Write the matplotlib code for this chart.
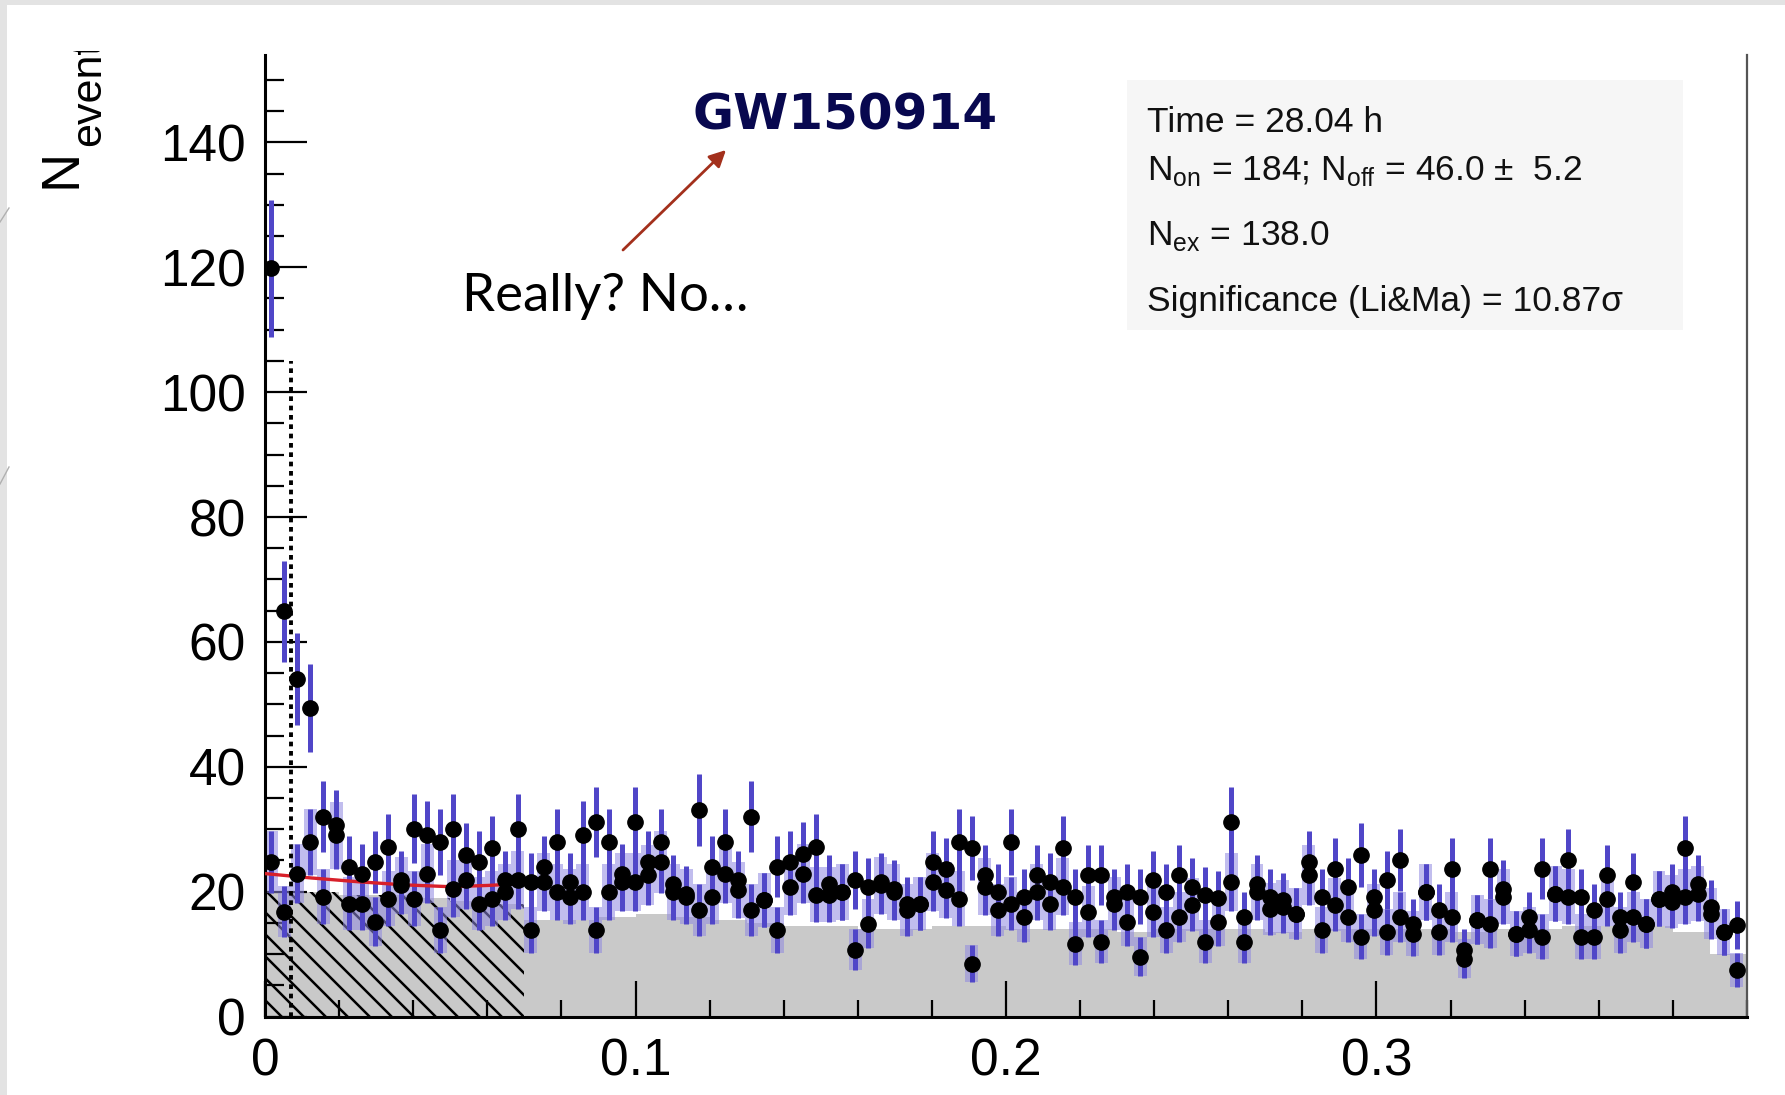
import numpy as np
import matplotlib
matplotlib.use("Agg")
import matplotlib.pyplot as plt
from matplotlib.ticker import MultipleLocator, FixedLocator, FixedFormatter
from matplotlib.transforms import Bbox, IdentityTransform
from matplotlib.lines import Line2D
from matplotlib.collections import LineCollection

# theta^2 bins: 114 bins of width 0.0035 between 0 and 0.4
bin_width = 0.0035
n_bins = 114

# upper / lower black points in each bin
on_counts = [119.8, 64.9, 54.0, 49.4, 32.0, 30.7, 24.0, 22.9, 24.8, 27.2,
             21.9, 30.1, 29.1, 28.0, 30.1, 25.9, 24.8, 27.0, 21.9, 30.1,
             21.6, 24.0, 28.0, 21.6, 29.1, 31.2, 28.0, 22.9, 31.2, 24.8,
             28.0, 21.3, 19.7, 33.1, 24.0, 28.0, 21.9, 32.0, 18.7, 24.0,
             24.8, 26.1, 27.2, 21.3, 20.0, 21.9, 20.8, 21.6, 20.5, 18.1,
             18.1, 24.8, 23.7, 28.0, 27.0, 22.7, 20.0, 28.0, 19.2, 22.7,
             21.6, 27.0, 19.2, 22.7, 22.7, 19.2, 20.0, 19.2, 21.9, 20.0,
             22.7, 20.8, 19.5, 19.0, 31.2, 16.0, 21.3, 19.2, 18.7, 16.5,
             24.8, 19.2, 23.7, 20.8, 25.9, 19.2, 21.9, 25.1, 14.9, 20.0,
             17.1, 23.7, 10.7, 15.5, 23.7, 20.5, 13.3, 16.0, 23.7, 19.7,
             25.1, 19.2, 17.1, 22.7, 16.0, 21.6, 14.9, 18.9, 20.0, 27.0,
             21.3, 17.6, 13.6, 14.7]
off_counts = [24.8, 16.8, 22.9, 28.0, 19.2, 29.0, 18.1, 18.1, 15.2, 18.9,
              21.0, 18.9, 22.9, 13.9, 20.5, 21.9, 18.1, 18.9, 20.0, 21.9,
              13.9, 21.6, 20.0, 19.2, 20.0, 13.9, 20.0, 21.6, 21.6, 22.7,
              24.8, 20.0, 19.2, 17.1, 19.2, 22.9, 20.3, 17.1, 18.7, 13.9,
              20.8, 22.9, 19.5, 19.5, 20.0, 10.7, 14.9, 21.0, 20.0, 17.1,
              18.1, 21.6, 20.3, 18.9, 8.5, 20.8, 17.1, 18.1, 16.0, 20.0,
              18.1, 20.8, 11.7, 16.8, 12.0, 18.1, 15.2, 9.6, 16.8, 13.9,
              16.0, 17.9, 12.0, 15.2, 21.6, 12.0, 20.0, 17.3, 17.6, 16.5,
              22.7, 13.9, 17.9, 16.0, 12.8, 17.1, 13.6, 16.0, 13.3, 20.0,
              13.6, 16.0, 9.3, 15.5, 14.9, 19.2, 13.3, 13.9, 12.8, 19.7,
              19.2, 12.8, 12.8, 18.9, 13.9, 16.0, 14.9, 18.9, 18.4, 19.2,
              19.7, 16.5, 13.6, 7.5]

# gray background histogram, 0.01 wide bins
bkg_edges = np.arange(0, 0.4001, 0.01)
bkg_level = [20.0, 20.0, 19.5, 19.5, 19.0, 18.5, 18.0, 15.5, 15.5, 16.0,
             16.5, 16.0, 15.5, 15.0, 14.5, 14.5, 14.0, 14.0, 14.5, 14.5,
             14.0, 14.0, 14.0, 13.5, 14.0, 14.0, 14.0, 13.5, 14.0, 14.0,
             14.0, 14.0, 13.5, 14.0, 14.0, 14.5, 14.5, 14.5, 13.5, 10.0]

# fit over the normalisation region
fit_x = [0.0, 0.0125, 0.025, 0.0375, 0.05, 0.06, 0.07]
fit_y = [22.9, 22.2, 21.6, 21.1, 20.8, 21.0, 21.3]

theta_cut = 0.007
norm_max = 0.07

x = (np.arange(n_bins) + 0.5) * bin_width
edges = np.arange(n_bins + 1) * bin_width
off_arr = np.array(off_counts)
off_err = np.sqrt(off_arr)

plt.rcParams['font.family'] = ['Liberation Sans', 'DejaVu Sans']
fig = plt.figure(figsize=(17.85, 10.95), dpi=100)
fig.patch.set_facecolor('white')

ax = fig.add_axes([0.14846, 0.0716, 0.83025, 0.87826])
ax.set_xlim(0, 0.4)
ax.set_ylim(0, 154)

# gray off histogram
ax.stairs(bkg_level, bkg_edges, fill=True, color='#c9c9c9', zorder=1)

# hatched normalisation region: "\" lines every ~22 px, clipped to the histogram
hatch_n = int(round(norm_max / 0.01))
hpatch = ax.stairs(bkg_level[:hatch_n], bkg_edges[:hatch_n + 1], fill=True,
                   facecolor='none', edgecolor='none', linewidth=0, zorder=1.5)
segs = []
for c in np.arange(250, 900, 22):
    segs.append([(c - 600, 600), (c, 0)])
hl = LineCollection(segs, colors='black', linewidths=1.8, transform=IdentityTransform(),
                    zorder=1.6)
ax.add_collection(hl, autolim=False)
hl.set_clip_path(hpatch)

# light error band of the off histogram
ax.stairs(off_arr + off_err, edges, baseline=off_arr - off_err, fill=True,
          color='#8f88e0', alpha=0.55, linewidth=0, zorder=1.8)

# dotted theta^2 cut
ax.plot([theta_cut, theta_cut], [0, 105], color='black', linestyle=(0, (1.2, 1.2)),
        linewidth=2.8, zorder=2)

blue = '#5046c8'
ax.errorbar(x, off_counts, yerr=off_err, fmt='none', ecolor=blue,
            elinewidth=3.6, capsize=0, zorder=3)
ax.errorbar(x, on_counts, yerr=np.sqrt(on_counts), fmt='none', ecolor=blue,
            elinewidth=3.6, capsize=0, zorder=3)

ax.plot(fit_x, fit_y, color='#d8202a', linewidth=2.4, zorder=4)

ax.plot(x, off_counts, 'o', color='black', markersize=11, zorder=5)
ax.plot(x, on_counts, 'o', color='black', markersize=11, zorder=5)

# axes styling, ROOT like
ax.spines['top'].set_visible(False)
ax.spines['left'].set_linewidth(2.2)
ax.spines['bottom'].set_linewidth(2.2)
ax.spines['right'].set_linewidth(1.6)
ax.spines['right'].set_color('#555555')

ax.yaxis.set_major_locator(MultipleLocator(20))
ax.yaxis.set_minor_locator(MultipleLocator(5))
ax.xaxis.set_major_locator(FixedLocator([0, 0.1, 0.2, 0.3]))
ax.xaxis.set_major_formatter(FixedFormatter(['0', '0.1', '0.2', '0.3']))
ax.xaxis.set_minor_locator(MultipleLocator(0.02))

ax.tick_params(axis='y', which='major', direction='in', length=30, width=1.6,
               labelsize=37, pad=14)
ax.tick_params(axis='y', which='minor', direction='in', length=14, width=1.6)
ax.tick_params(axis='x', which='major', direction='in', length=26, width=1.6,
               labelsize=37, pad=15)
ax.tick_params(axis='x', which='minor', direction='in', length=12, width=1.6)

# y title, clipped at the top like in the original
clip = Bbox.from_extents(0, 0, 300, 1095 - 51)
fig.text(62 / 1785, 1 - 168 / 1095, 'N', rotation=90, fontsize=39,
         ha='center', va='center')
t2 = fig.text(89 / 1785, 1 - 146 / 1095, 'events', rotation=90, fontsize=31,
              ha='center', va='bottom')
t2.set_clip_box(clip)
t2.set_clip_on(True)

# stats box
fig.patches.append(plt.Rectangle((1127 / 1785, 1 - 330 / 1095), 556 / 1785, 250 / 1095,
                                 transform=fig.transFigure, facecolor='#f6f6f6',
                                 edgecolor='none', zorder=0))
stats_x = 1147 / 1785
stats = ['Time = 28.04 h',
         r'N$_{\mathregular{on}}$ = 184; N$_{\mathregular{off}}$ = 46.0 ±  5.2',
         r'N$_{\mathregular{ex}}$ = 138.0',
         'Significance (Li&Ma) = 10.87σ']
stats_y = [122, 171, 236, 301]
for txt, yy in zip(stats, stats_y):
    fig.text(stats_x, 1 - yy / 1095, txt, fontsize=25.5, color='#111111',
             ha='left', va='center')

# annotation
fig.text(692 / 1785, 1 - 115 / 1095, 'GW150914', fontsize=36, fontweight='bold',
         family='DejaVu Sans', color='#08084f', ha='left', va='center')
fig.text(462 / 1785, 1 - 296 / 1095, 'Really? No…', fontsize=38,
         family=['Lato', 'DejaVu Sans'], color='black', ha='left', va='center')
ax.annotate('', xy=(726 / 1785, 1 - 150 / 1095), xycoords='figure fraction',
            xytext=(623 / 1785, 1 - 250 / 1095), textcoords='figure fraction',
            arrowprops=dict(arrowstyle='-|>', color='#a3301c', lw=2,
                            mutation_scale=25, shrinkA=0, shrinkB=0))

# slide frame
fig.patches.append(plt.Rectangle((0, 1 - 5 / 1095), 1, 5 / 1095, transform=fig.transFigure,
                                 facecolor='#e3e3e3', edgecolor='none'))
fig.patches.append(plt.Rectangle((0, 0), 7 / 1785, 1, transform=fig.transFigure,
                                 facecolor='#e3e3e3', edgecolor='none'))
for y0, y1 in [(222, 208), (484, 467)]:
    fig.lines.append(Line2D([0, 9 / 1785], [1 - y0 / 1095, 1 - y1 / 1095],
                            transform=fig.transFigure, color='#b0b0b0', linewidth=1))

fig.savefig('out.png', dpi=100, facecolor='white')
